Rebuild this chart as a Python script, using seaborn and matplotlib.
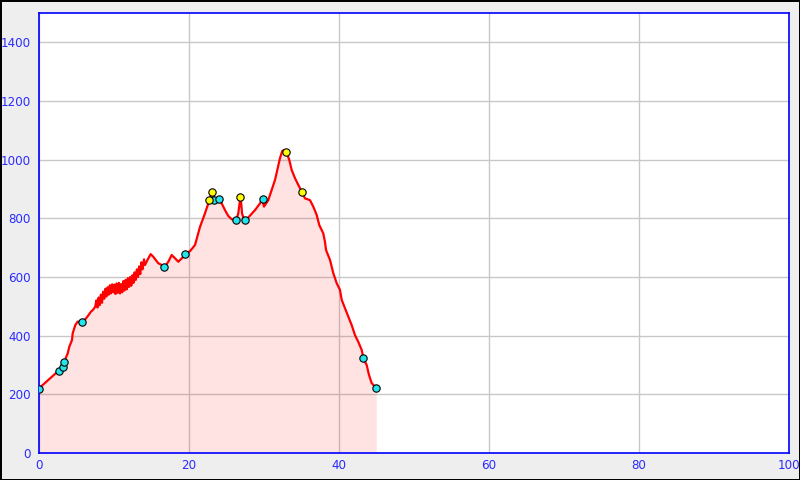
import matplotlib
matplotlib.use("Agg")
import matplotlib.pyplot as plt
import seaborn as sns
import pandas as pd

# Elevation profile (distance km, elevation m)
dist = [0.0, 0.13, 0.5, 1.5, 2.63, 3.0, 3.37, 3.83, 4.04, 4.4, 4.49, 4.84, 5.16, 5.5, 5.83, 6.27, 6.6, 6.93, 7.2,
        7.5, 7.65, 7.8, 7.95, 8.1, 8.25, 8.4, 8.55, 8.7, 8.85, 9.0, 9.15, 9.3, 9.45, 9.6, 9.75, 9.9,
        10.05, 10.2, 10.35, 10.5, 10.65, 10.8, 10.95, 11.1, 11.25, 11.4, 11.55, 11.7, 11.85, 12.0,
        12.15, 12.3, 12.45, 12.6, 12.75, 12.9, 13.05, 13.2, 13.35, 13.5, 13.65, 13.8, 14.0, 14.13,
        14.5, 14.89, 15.24, 15.9, 16.36, 16.71, 17.24, 17.69, 18.13, 18.57, 19.24, 19.5, 20.13,
        20.8, 21.47, 22.13, 22.57, 22.8, 23.03, 23.47, 24.04, 24.36, 24.8, 25.24, 25.69, 26.27,
        26.57, 26.8, 26.89, 27.07, 27.37, 27.91, 28.8, 29.47, 29.77, 30.0, 30.57, 31.03, 31.47,
        31.77, 32.13, 32.44, 32.71, 33.03, 33.37, 33.69, 34.13, 34.57, 35.03, 35.47, 36.13, 36.57,
        37.03, 37.37, 37.9, 38.13, 38.27, 38.8, 39.24, 39.69, 40.13, 40.36, 40.8, 41.24, 41.69,
        42.13, 42.57, 43.03, 43.24, 43.69, 44.0, 44.36, 44.97]
elev = [218, 224, 232, 255, 281, 294, 311, 340, 362, 385, 408, 436, 448, 446, 448, 459, 470, 482, 488,
        499, 520, 496, 530, 504, 540, 512, 550, 526, 560, 534, 565, 540, 572, 544, 575, 548,
        574, 542, 578, 546, 580, 544, 576, 548, 586, 554, 590, 558, 596, 566,
        600, 570, 606, 580, 616, 590, 626, 600, 636, 610, 650, 626, 660, 641,
        660, 678, 669, 647, 641, 633, 652, 675, 664, 652, 669, 678, 688,
        709, 771, 817, 851, 868, 890, 862, 865, 851, 828, 808, 797, 792,
        817, 862, 872, 817, 792, 803, 828, 851, 865, 840, 862, 897, 931,
        965, 1005, 1030, 1033, 1024, 999, 965, 937, 914, 891, 868, 862, 840,
        811, 777, 749, 720, 692, 658, 613, 579, 556, 522, 493, 465, 436,
        402, 379, 351, 324, 300, 266, 238, 222]

# Waypoints
cyan_x = [0.0, 2.7, 3.25, 3.37, 5.78, 16.71, 19.47, 23.33, 24.04, 26.3, 27.4, 29.8, 43.25, 44.97]
cyan_y = [218, 280, 294, 310, 445, 633, 677, 861, 865, 794, 794, 865, 324, 222]
yellow_x = [22.7, 23.07, 26.8, 32.98, 35.1]
yellow_y = [861, 889, 872, 1025, 890]

xticks = [0, 20, 40, 60, 80, 100]
yticks = [0, 200, 400, 600, 800, 1000, 1200, 1400]

df = pd.DataFrame({"dist": dist, "elev": elev})
dfc = pd.DataFrame({"x": cyan_x, "y": cyan_y})
dfy = pd.DataFrame({"x": yellow_x, "y": yellow_y})

sns.set_style("white")
plt.rcParams['font.family'] = ['DejaVu Sans']

fig = plt.figure(figsize=(8, 4.8), dpi=100)
fig.patch.set_facecolor('#eeeeee')
fig.patch.set_edgecolor('black')
fig.patch.set_linewidth(2)
ax = fig.add_axes([39/800, 27/480, 750/800, 440/480])
ax.set_facecolor('white')
ax.set_axisbelow(True)
ax.grid(True, color='#c8c8c8', linewidth=1)

ax.fill_between(df["dist"], 0, df["elev"], color='red', alpha=0.11, linewidth=0, zorder=1)
sns.lineplot(data=df, x="dist", y="elev", ax=ax, color='red', linewidth=1.6,
             sort=False, estimator=None, zorder=2)
sns.scatterplot(data=dfc, x="x", y="y", ax=ax, color='#22e4ea', edgecolor='black',
                linewidth=0.8, s=28, zorder=3)
sns.scatterplot(data=dfy, x="x", y="y", ax=ax, color='#ffff00', edgecolor='black',
                linewidth=0.8, s=28, zorder=4)

ax.set_xlim(0, 100)
ax.set_ylim(0, 1500)
ax.set_xticks(xticks)
ax.set_yticks(yticks)
ax.set_xlabel('')
ax.set_ylabel('')
for s in ax.spines.values():
    s.set_color('#0000ff')
    s.set_linewidth(1.2)
ax.tick_params(axis='both', direction='in', length=5, width=1.2, color='#0000ff',
               labelcolor='#2a2aff', labelsize=8.6)
ax.tick_params(axis='y', pad=6)
ax.tick_params(axis='x', pad=4)

fig.savefig('out.png', dpi=100, facecolor=fig.get_facecolor(), edgecolor='black')
